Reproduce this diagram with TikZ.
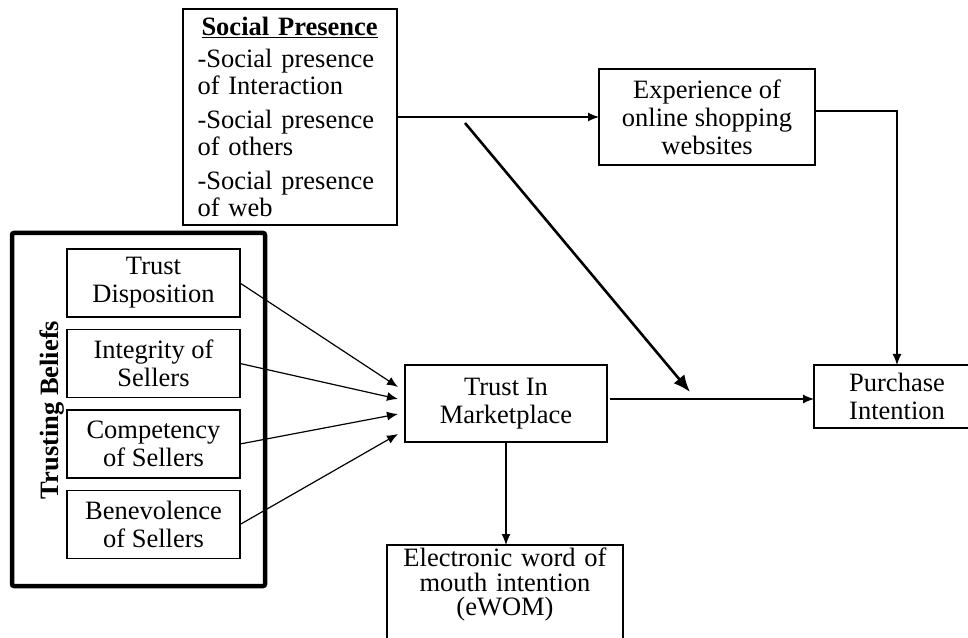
\documentclass[tikz,border=0pt]{standalone}
\usepackage{fontspec}
\setmainfont{Liberation Serif}
\usepackage{tikz}
\usepackage{tkz-graph}
\usetikzlibrary{arrows.meta}

\begin{document}
\begin{tikzpicture}[x=1pt,y=1pt,font=\fontsize{26.5}{28}\selectfont]
    \useasboundingbox (0,0) rectangle (968,637);
        \GraphInit[vstyle=Normal]
        \tikzset{
            VertexStyle/.style = {
                shape = rectangle,
                draw,
                line width = 1.3pt,
                inner sep = 0pt,
                outer sep = 0pt,
                align = center,
                minimum width = 173pt,
                minimum height = 68pt},
            link/.style = {line width = 1.2pt, -{Latex[length=11pt,width=9pt]}},
            boldlink/.style = {line width = 2.6pt, -{Latex[length=17pt,width=14pt]}}
                }
        \SetGraphUnit{80.5}
    % trusting beliefs
    \node[draw, line width = 4.5pt, rounded corners = 2pt,
          minimum width = 253pt, minimum height = 353pt] (TB) at (138.5,227.5) {};
    \node[rotate = 90, font = \fontsize{26.5}{28}\selectfont\bfseries] (TBlabel) at (52,227) {Trusting Beliefs};
    \Vertex[x = 153.5, y = 354, L = {Trust\\Disposition}]{TD}
    \SO[L = {Integrity of\\Sellers}](TD){IS}
    \SO[L = {Competency\\of Sellers}](IS){CS}
    \SO[L = {Benevolence\\of Sellers}](CS){BS}
    % social presence
        {\tikzset{VertexStyle/.append style = {align = left, text width = 185pt,
            minimum width = 214pt, minimum height = 216pt,
            font = \fontsize{26.5}{27}\selectfont}}
        \Vertex[x = 290, y = 520, L = {\hspace*{4pt}\underline{\textbf{Social Presence}}\\[5pt]
            -Social presence\\of Interaction\\[7pt]
            -Social presence\\of others\\[7pt]
            -Social presence\\of web}]{SP}}
        {\tikzset{VertexStyle/.append style = {minimum width = 216pt, minimum height = 96pt}}
        \Vertex[x = 707, y = 520, L = {Experience of\\online shopping\\websites}]{EXP}}
        {\tikzset{VertexStyle/.append style = {minimum width = 202pt, minimum height = 77pt}}
        \Vertex[x = 506, y = 233.5, L = {Trust In\\Marketplace}]{TIM}}
        {\tikzset{VertexStyle/.append style = {minimum width = 166pt, minimum height = 63pt}}
        \Vertex[x = 897, y = 240.5, L = {Purchase\\Intention}]{PI}}
        {\tikzset{VertexStyle/.append style = {anchor = north, text width = 236pt,
            inner ysep = 3pt, text depth = 90pt, font = \fontsize{26.5}{24.5}\selectfont}}
        \Vertex[x = 505, y = 92, L = {Electronic word of\\mouth intention\\(eWOM)}]{EW}}
    % links
    \draw[link] (SP) -- (EXP);
    \draw[link] ([yshift = 6pt]EXP.east) -| (PI.north);
    \coordinate (SPmod) at (465,514);
    \coordinate (SPtip) at (690,245);
    \draw[boldlink] (SPmod) -- (SPtip);
    \draw[link] ([shift = {(3,4.5)}]TIM.east) -- ([yshift = -2.5pt]PI.west);
    \draw[link] (TIM.south) -- (TIM.south |- EW.north);
    \foreach \b/\s in {TD/16.5, IS/4.5, CS/-10.5, BS/-30.5}
        \draw[link] (\b.east) -- ([shift = {(-7,\s)}]TIM.west);
\end{tikzpicture}
\end{document}
